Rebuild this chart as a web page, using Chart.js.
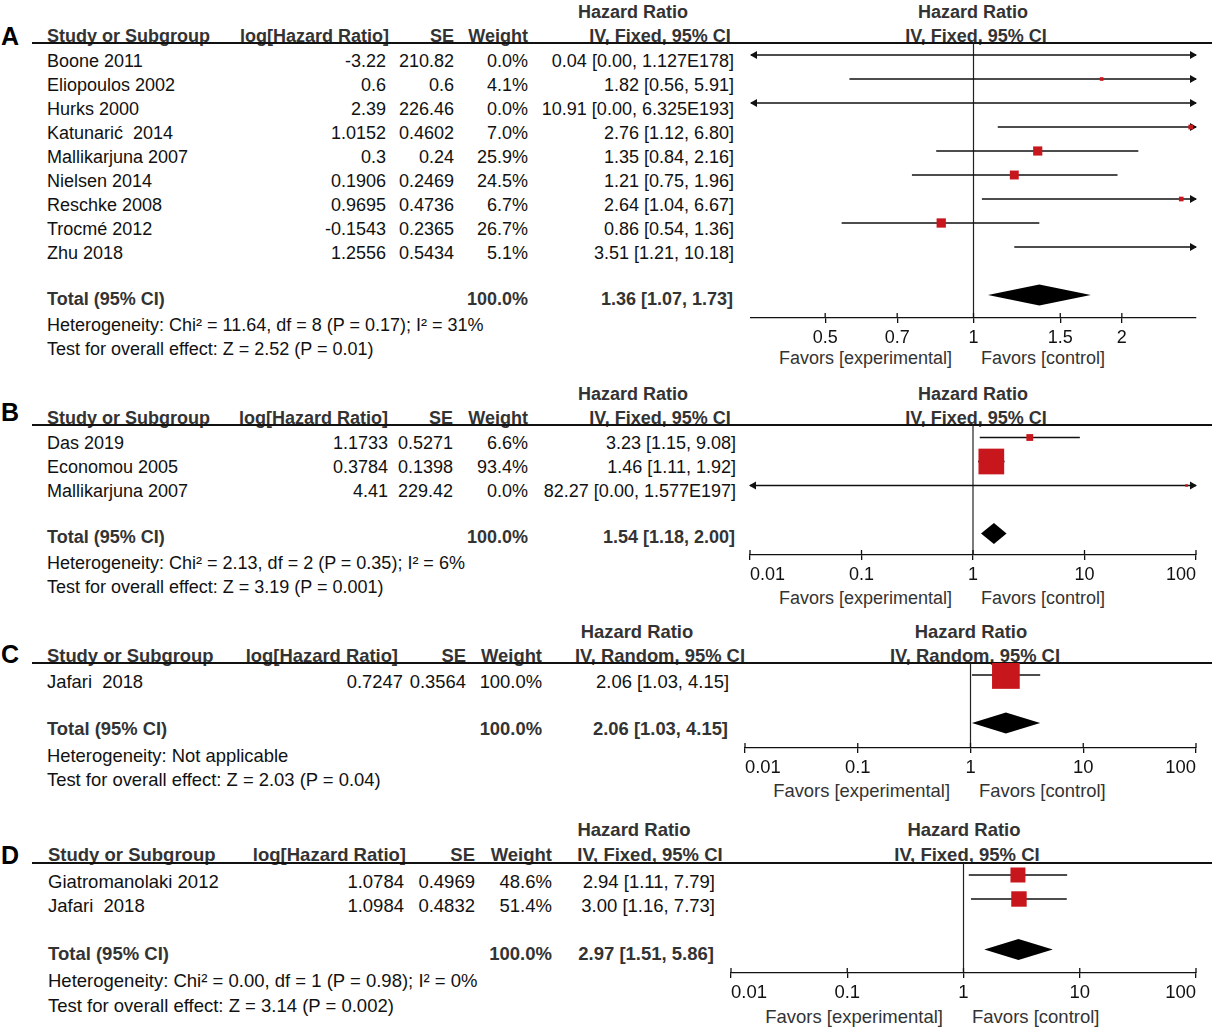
<!DOCTYPE html>
<html><head><meta charset="utf-8">
<script src="https://cdn.jsdelivr.net/npm/chart.js@4.4.1/dist/chart.umd.min.js"></script>
<style>
html,body{margin:0;padding:0;background:#fff;}
#page{position:relative;width:1219px;height:1032px;overflow:hidden;font-family:"Liberation Sans",Arial,sans-serif;}
.t{position:absolute;white-space:pre;height:22px;line-height:22px;color:#111;}
.b{font-weight:bold;color:#333;}
.g{color:#333;}
.lab{font-weight:bold;color:#000;font-size:25px;}
.hl{position:absolute;height:1.5px;background:#111;}
canvas{position:absolute;}
</style></head><body><div id="page"></div>
<script>
// ---------------- DATA ----------------
// Panel A
const studiesA = ["Boone 2011","Eliopoulos 2002","Hurks 2000","Katunarić  2014","Mallikarjuna 2007","Nielsen 2014","Reschke 2008","Trocmé 2012","Zhu 2018"];
const logHRA = [-3.22, 0.6, 2.39, 1.0152, 0.3, 0.1906, 0.9695, -0.1543, 1.2556];
const seA = [210.82, 0.6, 226.46, 0.4602, 0.24, 0.2469, 0.4736, 0.2365, 0.5434];
const weightA = [0.0, 4.1, 0.0, 7.0, 25.9, 24.5, 6.7, 26.7, 5.1];
const hrA = [0.04, 1.82, 10.91, 2.76, 1.35, 1.21, 2.64, 0.86, 3.51];
const loA = [0.00, 0.56, 0.00, 1.12, 0.84, 0.75, 1.04, 0.54, 1.21];
const hiA = [1.127e178, 5.91, 6.325e193, 6.80, 2.16, 1.96, 6.67, 1.36, 10.18];
const totalA = [1.36, 1.07, 1.73];
const hetA = "Heterogeneity: Chi² = 11.64, df = 8 (P = 0.17); I² = 31%";
const testA = "Test for overall effect: Z = 2.52 (P = 0.01)";
const methodA = "IV, Fixed, 95% CI";
const ticksA = [0.5, 0.7, 1, 1.5, 2];
const tickLabelsA = ["0.5", "0.7", "1", "1.5", "2"];
const rangeA = [0.35355, 2.8284];

// Panel B
const studiesB = ["Das 2019","Economou 2005","Mallikarjuna 2007"];
const logHRB = [1.1733, 0.3784, 4.41];
const seB = [0.5271, 0.1398, 229.42];
const weightB = [6.6, 93.4, 0.0];
const hrB = [3.23, 1.46, 82.27];
const loB = [1.15, 1.11, 0.00];
const hiB = [9.08, 1.92, 1.577e197];
const totalB = [1.54, 1.18, 2.00];
const hetB = "Heterogeneity: Chi² = 2.13, df = 2 (P = 0.35); I² = 6%";
const testB = "Test for overall effect: Z = 3.19 (P = 0.001)";
const methodB = "IV, Fixed, 95% CI";

// Panel C
const studiesC = ["Jafari  2018"];
const logHRC = [0.7247];
const seC = [0.3564];
const weightC = [100.0];
const hrC = [2.06];
const loC = [1.03];
const hiC = [4.15];
const totalC = [2.06, 1.03, 4.15];
const hetC = "Heterogeneity: Not applicable";
const testC = "Test for overall effect: Z = 2.03 (P = 0.04)";
const methodC = "IV, Random, 95% CI";

// Panel D
const studiesD = ["Giatromanolaki 2012","Jafari  2018"];
const logHRD = [1.0784, 1.0984];
const seD = [0.4969, 0.4832];
const weightD = [48.6, 51.4];
const hrD = [2.94, 3.00];
const loD = [1.11, 1.16];
const hiD = [7.79, 7.73];
const totalD = [2.97, 1.51, 5.86];
const hetD = "Heterogeneity: Chi² = 0.00, df = 1 (P = 0.98); I² = 0%";
const testD = "Test for overall effect: Z = 3.14 (P = 0.002)";
const methodD = "IV, Fixed, 95% CI";

// shared log axis for B, C, D
const ticksWide = [0.01, 0.1, 1, 10, 100];
const tickLabelsWide = ["0.01", "0.1", "1", "10", "100"];
const rangeWide = [0.01, 100];

// ---------------- LAYOUT (positions / styles only) ----------------
const geo = {
  A:{fs:18,label:36,hrHead:12,head:36,rule:43,row0:61,total:299,het:325,test:349,axisY:318,axisL:751,axisR:1196,favors:358,mark0:55,sq:1.8,totIdx:10,
     name:47,cLog:386,hLog:389,cSe:454,cW:528,cCi:734,hCi:660,hHr:633,pHr:973,pCi:976,align:'center'},
  B:{fs:18,label:412,hrHead:394,head:418,rule:425,row0:443,total:537,het:563,test:587,axisY:555,axisL:750,axisR:1196,favors:598,mark0:437.5,sq:2.66,totIdx:4,
     name:47,cLog:388,hLog:388,cSe:453,cW:528,cCi:736,hCi:660,hHr:633,pHr:973,pCi:976,align:'inner'},
  C:{fs:18.4,label:654,hrHead:632,head:656,rule:663,row0:682,total:729,het:756,test:780,axisY:748,axisL:745,axisR:1196,favors:791,mark0:675,sq:2.77,totIdx:2,
     name:47,cLog:403,hLog:398,cSe:466,cW:542,cCi:729,hCi:660,hHr:637,pHr:971,pCi:975,align:'inner'},
  D:{fs:18.5,label:855,hrHead:830,head:855,rule:863,row0:882,total:954,het:981,test:1006,axisY:973,axisL:731,axisR:1196,favors:1017,mark0:875,sq:2.15,totIdx:3.1,
     name:48,cLog:404,hLog:406,cSe:475,cW:552,cCi:715,hCi:650,hHr:634,pHr:964,pCi:967,align:'inner'}
};
const RED = '#c8161d';
const INK = '#111';

const page = document.getElementById('page');
function txt(x, cy, s, align, cls, fs){
  const d = document.createElement('div');
  d.className = 't' + (cls ? ' ' + cls : '');
  d.textContent = s;
  d.style.fontSize = fs + 'px';
  const W = 800;
  if (align === 'right') { d.style.left = (x - W) + 'px'; d.style.width = W + 'px'; d.style.textAlign = 'right'; }
  else if (align === 'center') { d.style.left = (x - W/2) + 'px'; d.style.width = W + 'px'; d.style.textAlign = 'center'; }
  else d.style.left = x + 'px';
  d.style.top = (cy - 11) + 'px';
  page.appendChild(d);
}
function fmt(v){ return v >= 1e6 ? v.toExponential(3).replace('e+','E') : v.toFixed(2); }

const forestPlugin = {
  id: 'forest',
  beforeDatasetsDraw(chart, args, o){
    const {ctx, chartArea:a, scales:{x, y}} = chart;
    ctx.save();
    const x1 = x.getPixelForValue(1);
    ctx.strokeStyle = '#222'; ctx.lineWidth = 1.2;
    ctx.beginPath(); ctx.moveTo(x1, a.top); ctx.lineTo(x1, a.bottom); ctx.stroke();
    ctx.strokeStyle = INK; ctx.fillStyle = INK; ctx.lineWidth = 1.6;
    o.lo.forEach((lo, i) => {
      const hi = o.hi[i];
      const py = y.getPixelForValue(i);
      const clipL = !(lo > x.min), clipR = hi > x.max;
      const pl = clipL ? a.left : x.getPixelForValue(lo);
      const pr = clipR ? a.right : x.getPixelForValue(hi);
      ctx.beginPath(); ctx.moveTo(pl, py); ctx.lineTo(pr, py); ctx.stroke();
      if (clipL){ ctx.beginPath(); ctx.moveTo(a.left - 1, py); ctx.lineTo(a.left + 6, py - 4); ctx.lineTo(a.left + 6, py + 4); ctx.closePath(); ctx.fill(); }
      if (clipR){ ctx.beginPath(); ctx.moveTo(a.right + 1, py); ctx.lineTo(a.right - 6, py - 4); ctx.lineTo(a.right - 6, py + 4); ctx.closePath(); ctx.fill(); }
    });
    ctx.restore();
  },
  afterDatasetsDraw(chart, args, o){
    const {ctx, scales:{x, y}} = chart;
    const [hr, lo, hi] = o.total;
    const py = y.getPixelForValue(o.totIdx);
    ctx.save(); ctx.fillStyle = '#000';
    ctx.beginPath();
    ctx.moveTo(x.getPixelForValue(lo), py);
    ctx.lineTo(x.getPixelForValue(hr), py - 10.5);
    ctx.lineTo(x.getPixelForValue(hi), py);
    ctx.lineTo(x.getPixelForValue(hr), py + 10.5);
    ctx.closePath(); ctx.fill();
    ctx.restore();
  },
  afterDraw(chart){
    const {ctx, chartArea:a, scales:{x}} = chart;
    ctx.save(); ctx.strokeStyle = INK; ctx.lineWidth = 1.3;
    x.ticks.forEach(t => { const px = x.getPixelForValue(t.value); ctx.beginPath(); ctx.moveTo(px, a.bottom - 5); ctx.lineTo(px, a.bottom); ctx.stroke(); });
    ctx.restore();
  }
};

function panel(key, studies, logHR, se, weight, hr, lo, hi, total, het, test, method, ticks, tickLabels, range){
  const g = geo[key], fs = g.fs;
  // text table
  txt(1, g.label, key, 'left', 'lab', 25);
  txt(g.hHr, g.hrHead, 'Hazard Ratio', 'center', 'b', fs);
  txt(g.pHr, g.hrHead, 'Hazard Ratio', 'center', 'b', fs);
  txt(g.name, g.head, 'Study or Subgroup', 'left', 'b', fs);
  txt(g.hLog, g.head, 'log[Hazard Ratio]', 'right', 'b', fs);
  txt(g.cSe, g.head, 'SE', 'right', 'b', fs);
  txt(g.cW, g.head, 'Weight', 'right', 'b', fs);
  txt(g.hCi, g.head, method, 'center', 'b', fs);
  txt(g.pCi, g.head, method, 'center', 'b', fs);
  const rule = document.createElement('div'); rule.className = 'hl';
  rule.style.left = '32px'; rule.style.width = '1180px'; rule.style.top = (g.rule - 1) + 'px';
  page.appendChild(rule);
  studies.forEach((s, i) => {
    const cy = g.row0 + 24 * i;
    txt(g.name, cy, s, 'left', '', fs);
    txt(g.cLog, cy, String(logHR[i]), 'right', '', fs);
    txt(g.cSe, cy, String(se[i]), 'right', '', fs);
    txt(g.cW, cy, weight[i].toFixed(1) + '%', 'right', '', fs);
    txt(g.cCi, cy, fmt(hr[i]) + ' [' + fmt(lo[i]) + ', ' + fmt(hi[i]) + ']', 'right', '', fs);
  });
  const wSum = weight.reduce((p, c) => p + c, 0);
  txt(g.name, g.total, 'Total (95% CI)', 'left', 'b', fs);
  txt(g.cW, g.total, wSum.toFixed(1) + '%', 'right', 'b', fs);
  txt(g.cCi - 1, g.total, fmt(total[0]) + ' [' + fmt(total[1]) + ', ' + fmt(total[2]) + ']', 'right', 'b', fs);
  txt(g.name, g.het, het, 'left', '', fs);
  txt(g.name, g.test, test, 'left', '', fs);
  txt(g.pHr - 21, g.favors, 'Favors [experimental]', 'right', 'g', fs);
  txt(g.pHr + 8, g.favors, 'Favors [control]', 'left', 'g', fs);

  // chart canvas
  const cL = 700, cW = 519, padTop = 4;
  const cTop = g.rule - padTop;
  const axisH = 30;
  const cH = (g.axisY - cTop) + axisH;
  const cv = document.createElement('canvas');
  cv.width = cW; cv.height = cH;
  cv.style.left = cL + 'px'; cv.style.top = cTop + 'px';
  cv.style.width = cW + 'px'; cv.style.height = cH + 'px';
  page.appendChild(cv);
  const yMin = -(g.mark0 - g.rule) / 24, yMax = (g.axisY - g.mark0) / 24;
  new Chart(cv, {
    type: 'scatter',
    data: { datasets: [{
      data: hr.map((v, i) => ({x: v, y: i})),
      pointStyle: 'rect',
      pointRadius: weight.map(w => Math.max(2.6, g.sq * Math.sqrt(w)) / Math.SQRT2),
      pointHoverRadius: weight.map(w => Math.max(2.6, g.sq * Math.sqrt(w)) / Math.SQRT2),
      backgroundColor: RED, borderColor: RED, pointBorderWidth: 0, borderWidth: 0,
      clip: 0
    }]},
    options: {
      responsive: false, animation: false, events: [],
      layout: { autoPadding: false, padding: { left: g.axisL - cL, right: cL + cW - g.axisR, top: padTop, bottom: 0 } },
      plugins: { legend: {display: false}, tooltip: {enabled: false},
        forest: { lo: lo, hi: hi, total: total, totIdx: g.totIdx } },
      scales: {
        x: { type: 'logarithmic', min: range[0], max: range[1],
          afterBuildTicks: s => { s.ticks = ticks.map(v => ({value: v})); },
          afterFit: s => { s.height = axisH; s.paddingLeft = 0; s.paddingRight = 0; },
          ticks: { autoSkip: false, maxRotation: 0, minRotation: 0, padding: 4, align: g.align, color: INK,
                   font: { family: '"Liberation Sans", Arial, sans-serif', size: fs },
                   callback: (v, i) => tickLabels[i] },
          grid: { drawOnChartArea: false, drawTicks: true, tickLength: 5, color: INK, lineWidth: 1.3 },
          border: { display: true, color: INK, width: 1.3 }
        },
        y: { type: 'linear', display: false, reverse: true, min: yMin, max: yMax }
      }
    },
    plugins: [forestPlugin]
  });
}

panel('A', studiesA, logHRA, seA, weightA, hrA, loA, hiA, totalA, hetA, testA, methodA, ticksA, tickLabelsA, rangeA);
panel('B', studiesB, logHRB, seB, weightB, hrB, loB, hiB, totalB, hetB, testB, methodB, ticksWide, tickLabelsWide, rangeWide);
panel('C', studiesC, logHRC, seC, weightC, hrC, loC, hiC, totalC, hetC, testC, methodC, ticksWide, tickLabelsWide, rangeWide);
panel('D', studiesD, logHRD, seD, weightD, hrD, loD, hiD, totalD, hetD, testD, methodD, ticksWide, tickLabelsWide, rangeWide);
</script></body></html>
